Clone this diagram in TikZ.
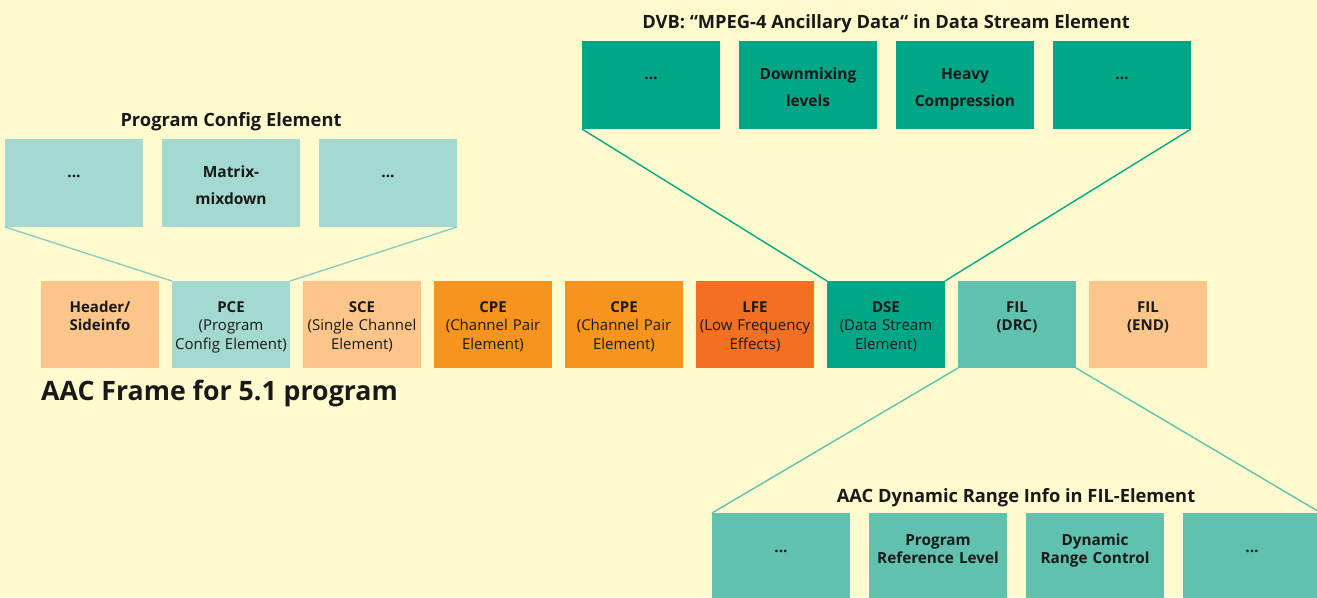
\documentclass[tikz,border=0pt]{standalone}
\usepackage{fontspec}
\setmainfont{Open Sans}
\usetikzlibrary{positioning}
\definecolor{bgyellow}{RGB}{255,251,206}
\definecolor{lightorange}{RGB}{252,198,138}
\definecolor{lightteal}{RGB}{164,217,210}
\definecolor{midorange}{RGB}{247,148,30}
\definecolor{darkorange}{RGB}{242,112,36}
\definecolor{dsegreen}{RGB}{0,166,136}
\definecolor{drcteal}{RGB}{96,194,174}
\tikzset{
    %Define style for the boxes of the frame
    framebox/.style={
           inner sep=0pt,
           outer sep=0pt,
           text width=118pt,
           text height=31pt,
           text depth=56pt,
           align=center,
           text=black!90,
           font=\fontsize{15}{18.5}\selectfont},
    %Define style for the boxes of the three groups
    groupbox/.style={
           inner sep=0pt,
           outer sep=0pt,
           text width=138pt,
           text height=38pt,
           text depth=50pt,
           align=center,
           text=black!90,
           font=\bfseries\fontsize{15.5}{27}\selectfont},
    drcbox/.style={
           groupbox,
           fill=drcteal,
           text height=32pt,
           text depth=58pt,
           font=\bfseries\fontsize{15.3}{18.5}\selectfont},
    grouptitle/.style={
           anchor=base,
           inner sep=0pt,
           text=black!90,
           font=\bfseries\fontsize{18.3}{20}\selectfont},
    % Define line style
    link/.style={
           line width=1.4pt}
}

\begin{document}
\begin{tikzpicture}[x=1pt,y=-1pt,node distance=13pt]
\fill[bgyellow] (0,0) rectangle (1317,597);
\useasboundingbox (0,0) rectangle (1317,597);
\clip (0,0) rectangle (1317,597);

% the AAC frame
\node[framebox, fill=lightorange, anchor=north west] (hdr) at (41,281) {\textbf{Header/}\\\textbf{Sideinfo}};
\node[framebox, fill=lightteal, right=of hdr] (pce) {\textbf{PCE}\\(Program\\Config Element)};
\node[framebox, fill=lightorange, right=of pce] (sce) {\textbf{SCE}\\(Single Channel\\Element)};
\node[framebox, fill=midorange, right=of sce] (cpeA) {\textbf{CPE}\\(Channel Pair\\Element)};
\node[framebox, fill=midorange, right=of cpeA] (cpeB) {\textbf{CPE}\\(Channel Pair\\Element)};
\node[framebox, fill=darkorange, right=of cpeB] (lfe) {\textbf{LFE}\\(Low Frequency\\Effects)};
\node[framebox, fill=dsegreen, right=of lfe] (dse) {\textbf{DSE}\\(Data Stream\\Element)};
\node[framebox, fill=drcteal, right=of dse] (drc) {\textbf{FIL}\\\textbf{(DRC)}};
\node[framebox, fill=lightorange, right=of drc] (fend) {\textbf{FIL}\\\textbf{(END)}};
\node[anchor=base west, inner sep=0pt, text=black!90, font=\bfseries\fontsize{26.7}{30}\selectfont] (frametitle) at (41,400) {AAC Frame for 5.1 program};

% program config element
\node[groupbox, fill=lightteal, anchor=north west] (pcA) at (5,139) {...};
\node[groupbox, fill=lightteal, right=19pt of pcA] (pcB) {Matrix-\\mixdown};
\node[groupbox, fill=lightteal, right=19pt of pcB] (pcC) {...};
\node[grouptitle] (pctitle) at (231,126) {Program Config Element};

% DVB ancillary data
\node[groupbox, fill=dsegreen, anchor=north west] (dvA) at (582,41) {...};
\node[groupbox, fill=dsegreen, right=19pt of dvA] (dvB) {Downmixing\\levels};
\node[groupbox, fill=dsegreen, right=19pt of dvB] (dvC) {Heavy\\Compression};
\node[groupbox, fill=dsegreen, right=19pt of dvC] (dvD) {...};
\node[grouptitle] (dvtitle) at (886,28) {DVB: “MPEG-4 Ancillary Data“ in Data Stream Element};

% dynamic range info
\node[drcbox, anchor=north west, text height=39pt, text depth=51pt] (drA) at (712,513) {...};
\node[drcbox, right=19pt of drA] (drB) {Program\\Reference Level};
\node[drcbox, right=19pt of drB] (drC) {Dynamic\\Range Control};
\node[drcbox, right=19pt of drC, text height=39pt, text depth=51pt] (drD) {...};
\node[grouptitle] (drtitle) at (1016,502) {AAC Dynamic Range Info in FIL-Element};

\path[link, draw=lightteal!85!teal]
	(pcA.south west) edge (pce.north west)
	(pcC.south east) edge (pce.north east);
\path[link, draw=dsegreen]
	(dvA.south west) edge (dse.north west)
	(dvD.south east) edge (dse.north east);
\path[link, draw=drcteal]
	(drc.south west) edge (drA.north west)
	(drc.south east) edge (drD.north east);

\end{tikzpicture}
\end{document}
